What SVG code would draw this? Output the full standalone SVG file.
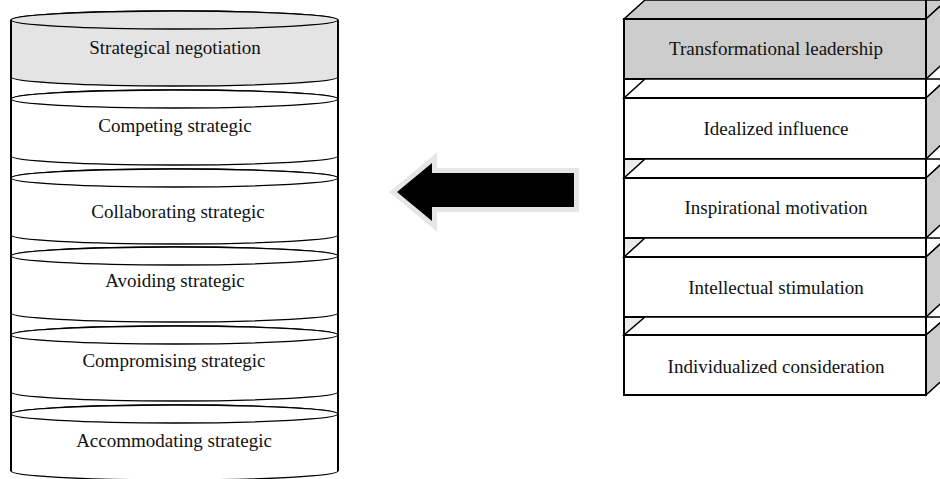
<svg xmlns="http://www.w3.org/2000/svg" width="940" height="479" viewBox="0 0 940 479">
<style>
.lbl{font-family:"Liberation Serif","Times New Roman",serif;font-size:19px;text-anchor:middle;fill:#111}
.cyl{stroke:#000;stroke-width:1.4;fill:#fff}
.cyl.g{fill:#e4e4e4}
.box{stroke:#000;stroke-width:2;fill:#fff;stroke-linejoin:miter}
.box.g{fill:#cccccc}
.side{stroke:#000;stroke-width:1.5;fill:#cccccc}
.top{stroke:#000;stroke-width:1.5;fill:#fff}
.top.g{fill:#cccccc}
.edge{stroke:#000;stroke-width:2;fill:none}
</style>
<rect width="940" height="479" fill="#fff"/>

<!-- Left cylinder stack -->
<g id="strategical-negotiation">
<path class="cyl g" d="M11,20 L11,77 A163.5,9 0 0 0 338,77 L338,20 A163.5,9 0 0 0 11,20 Z"/>
<ellipse class="cyl g" cx="174.5" cy="20" rx="163.5" ry="9"/>
<text class="lbl" x="175" y="54">Strategical negotiation</text>
</g>
<g id="competing">
<path class="cyl" d="M11,99 L11,156 A163.5,9 0 0 0 338,156 L338,99 A163.5,9 0 0 0 11,99 Z"/>
<ellipse class="cyl" cx="174.5" cy="99" rx="163.5" ry="9"/>
<text class="lbl" x="175" y="132">Competing strategic</text>
</g>
<g id="collaborating">
<path class="cyl" d="M11,178 L11,235 A163.5,9 0 0 0 338,235 L338,178 A163.5,9 0 0 0 11,178 Z"/>
<ellipse class="cyl" cx="174.5" cy="178" rx="163.5" ry="9"/>
<text class="lbl" x="178" y="218">Collaborating strategic</text>
</g>
<g id="avoiding">
<path class="cyl" d="M11,256 L11,313 A163.5,9 0 0 0 338,313 L338,256 A163.5,9 0 0 0 11,256 Z"/>
<ellipse class="cyl" cx="174.5" cy="256" rx="163.5" ry="9"/>
<text class="lbl" x="175" y="287">Avoiding strategic</text>
</g>
<g id="compromising">
<path class="cyl" d="M11,335 L11,392 A163.5,9 0 0 0 338,392 L338,335 A163.5,9 0 0 0 11,335 Z"/>
<ellipse class="cyl" cx="174.5" cy="335" rx="163.5" ry="9"/>
<text class="lbl" x="174" y="367">Compromising strategic</text>
</g>
<g id="accommodating">
<path class="cyl" d="M11,414 L11,471 A163.5,9 0 0 0 338,471 L338,414 A163.5,9 0 0 0 11,414 Z"/>
<ellipse class="cyl" cx="174.5" cy="414" rx="163.5" ry="9"/>
<text class="lbl" x="174" y="447">Accommodating strategic</text>
</g>
<g id="cylinder-sides">
<line class="edge" x1="11" y1="20" x2="11" y2="471" stroke-width="1.6"/>
<line class="edge" x1="338" y1="20" x2="338" y2="471" stroke-width="1.6"/>
</g>

<!-- Connector -->
<g id="connectors">
<polygon points="397,192 432,163 432,173 574,173 574,207 432,207 432,221" fill="#e6e6e6" stroke="#e6e6e6" stroke-width="10" stroke-linejoin="miter"/>
<polygon points="397,192 432,163 432,173 574,173 574,207 432,207 432,221" fill="#000"/>
</g>

<!-- Right box stack -->
<g id="gap-fills">
<polygon points="624,178 645,159 624,159" fill="#ececec"/>
<polygon points="624,257 645,238 624,238" fill="#ececec"/>
<polygon points="624,335 645,317 624,317" fill="#ececec"/>
</g>
<g id="transformational-leadership">
<polygon class="top g" points="624,19 926,19 947,0 645,0"/>
<polygon class="side" points="926,19 947,0 947,60 926,79"/>
<rect class="box g" x="624" y="19" width="302" height="60"/>
<text class="lbl" x="776" y="55">Transformational leadership</text>
</g>
<g id="idealized-influence">
<polygon class="top" points="624,98 926,98 947,79 645,79"/>
<polygon class="side" points="926,98 947,79 947,139 926,159"/>
<rect class="box" x="624" y="98" width="302" height="61"/>
<text class="lbl" x="776" y="135">Idealized influence</text>
</g>
<g id="inspirational-motivation">
<polygon class="top" points="624,178 926,178 947,159 645,159"/>
<polygon class="side" points="926,178 947,159 947,219 926,238"/>
<rect class="box" x="624" y="178" width="302" height="60"/>
<text class="lbl" x="776" y="214">Inspirational motivation</text>
</g>
<g id="intellectual-stimulation">
<polygon class="top" points="624,257 926,257 947,238 645,238"/>
<polygon class="side" points="926,257 947,238 947,298 926,317"/>
<rect class="box" x="624" y="257" width="302" height="60"/>
<text class="lbl" x="776" y="294">Intellectual stimulation</text>
</g>
<g id="individualized-consideration">
<polygon class="top" points="624,335 926,335 947,317 645,317"/>
<polygon class="side" points="926,335 947,317 947,376 926,395"/>
<rect class="box" x="624" y="335" width="302" height="60"/>
<text class="lbl" x="776" y="373">Individualized consideration</text>
</g>
<g id="box-edges">
<line class="edge" x1="624" y1="19" x2="624" y2="395"/>
<line class="edge" x1="926" y1="0" x2="926" y2="395"/>
</g>
</svg>
